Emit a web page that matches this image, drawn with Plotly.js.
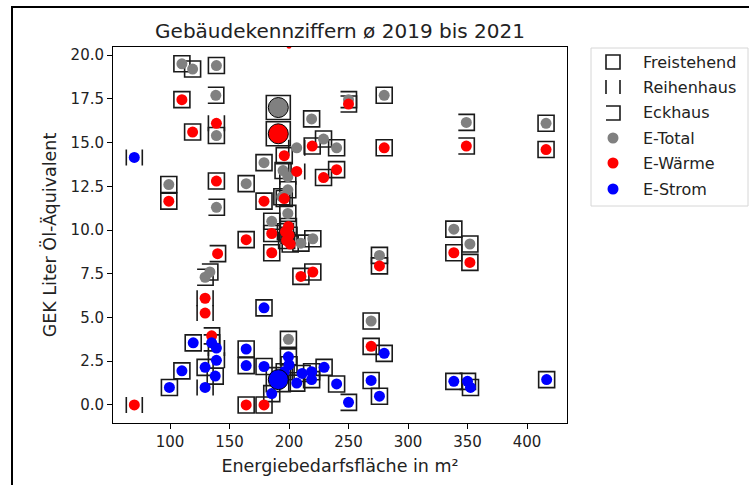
<!DOCTYPE html>
<html><head><meta charset="utf-8">
<script src="https://cdn.plot.ly/plotly-3.0.1.min.js"></script>
<style>
html,body{margin:0;padding:0;background:#fff;overflow:hidden;}
#chart{width:749px;height:485px;}
#frame{position:absolute;left:11px;top:6px;width:760px;height:500px;border-left:2px solid #000;border-top:2px solid #000;pointer-events:none;}
</style>
</head><body>
<div id="chart"></div><div id="frame"></div>
<script>
// E-Total (grau)
const totalX   = [110,119,139,139,99,164,179,219,229,240,280,416,338.5,352,276,269,199.5,210,220,185.5,195,199,194,199, 138.5,139,250,349,129.5,133.5, 206.5,199];
const totalY   = [19.5,19.2,19.4,15.4,12.6,12.65,13.85,16.35,15.2,14.7,17.7,16.1,10.05,9.2,8.55,4.8,3.75,9.25,9.5,10.5,13.4,12.3,11.9,10.95, 17.7,11.3,17.45,16.15,7.3,7.6, 14.7,13.05];
const totalBau = ['F','F','F','F','F','F','F','F','F','F','F','F','F','F','F','F','F','F','F','F','F','F','F','F','E','E','E','E','E','E','R','R'];
// E-Wärme (rot)
const waermeX   = [110,119,139,99,179,219.5,229,240,280,416,338.5,352,276,269,164,185.5,210,220,164,179,196,196,199.5,185.5,197,200,198,201, 250,349,140,135, 70,129.5,129.5,206.5,139];
const waermeY   = [17.45,15.6,12.8,11.65,11.65,14.8,13.0,13.45,14.7,14.6,8.7,8.15,7.95,3.35,9.45,8.7,7.35,7.6,0,0,14.25,11.8,10.2,9.8,9.9,9.7,9.4,9.2, 17.2,14.8,8.65,3.95, 0,6.1,5.25,13.35,16.1];
const waermeBau = ['F','F','F','F','F','F','F','F','F','F','F','F','F','F','F','F','F','F','F','F','F','F','F','F','F','F','F','F','E','E','E','E','R','R','R','R','R'];
// E-Strom (blau)
const stromX   = [99.5,110,119.5,129.5,138,164,164,179,179,280,229.5,240,269,276,338.5,352.5,416.5,199.5,219,219,206.5,185.5,200,196,211, 250,350,135, 70,129.5,139,139];
const stromY   = [1.0,1.95,3.55,2.15,1.65,3.2,2.25,5.55,2.2,2.95,2.15,1.2,1.4,0.5,1.35,1.0,1.45,2.75,1.9,1.45,1.25,0.65,2.3,1.9,1.8, 0.15,1.35,3.55, 14.15,1.0,2.55,3.25];
const stromBau = ['F','F','F','F','F','F','F','F','F','F','F','F','F','F','F','F','F','F','F','F','F','F','F','F','F','E','E','E','R','R','R','R'];
// Mittelwerte (grosse Marker)
const mittelX      = [191];
const mittelTotal  = [17.0];
const mittelWaerme = [15.5];
const mittelStrom  = [1.45];
// Einzelpunkt am oberen Rand
const randX = [200];
const randY = [20.5];

const xTicks = [100,150,200,250,300,350,400];
const yTicks = [0,2.5,5,7.5,10,12.5,15,17.5,20];
const legendLabels = ['Freistehend','Reihenhaus','Eckhaus','E-Total','E-Wärme','E-Strom'];

const W=749,H=485, L=113,R=567,T=47,B=423;
const px2x = p => (p-L)/(R-L);
const px2y = p => (B-p)/(B-T);

function pathFor(t,h){
  if(t==='F') return `M${-h},${-h}H${h}V${h}H${-h}Z`;
  if(t==='R') return `M${-h},${-h}V${h}M${h},${-h}V${h}`;
  return `M${-h},${h}H${h}V${-h}H${-h}`;
}
const shapes=[];
function addBau(xs,ys,ts,h){
  xs.forEach((x,i)=>{
    shapes.push({type:'path',xref:'x',yref:'y',xsizemode:'pixel',ysizemode:'pixel',
      xanchor:x,yanchor:ys[i],path:pathFor(ts[i],h),layer:'below',
      line:{color:'#1a1a1a',width:1.6},fillcolor:'rgba(0,0,0,0)'});
  });
}
addBau(totalX,totalY,totalBau,8);
addBau(waermeX,waermeY,waermeBau,8);
addBau(stromX,stromY,stromBau,8);
[mittelTotal,mittelWaerme,mittelStrom].forEach(arr=>addBau(mittelX,arr,['F'],12));

// manual legend
shapes.push({type:'rect',xref:'paper',yref:'paper',x0:px2x(591),x1:px2x(748),y0:px2y(206),y1:px2y(48),
  line:{color:'#d6d6d6',width:1},fillcolor:'#fff',layer:'above'});
const legY=[62,87,113,138,163,189];
const annotations=[];
['F','R','E'].forEach((t,i)=>{
  shapes.push({type:'path',xref:'paper',yref:'paper',xsizemode:'pixel',ysizemode:'pixel',
    xanchor:px2x(613),yanchor:px2y(legY[i]),path:pathFor(t,7),layer:'above',
    line:{color:'#1a1a1a',width:1.6},fillcolor:'rgba(0,0,0,0)'});
});
['#808080','#ff0000','#0000ff'].forEach((c,i)=>{
  shapes.push({type:'circle',xref:'paper',yref:'paper',xsizemode:'pixel',ysizemode:'pixel',
    xanchor:px2x(613),yanchor:px2y(legY[i+3]),x0:-5.5,x1:5.5,y0:-5.5,y1:5.5,layer:'above',
    line:{width:0},fillcolor:c});
});
legendLabels.forEach((s,i)=>{
  annotations.push({xref:'paper',yref:'paper',x:px2x(641),y:px2y(legY[i]),xanchor:'left',yanchor:'middle',
    text:s,showarrow:false,font:{size:16,color:'#222'}});
});

const traces=[
  {x:totalX,y:totalY,mode:'markers',type:'scatter',marker:{color:'#808080',size:11},showlegend:false},
  {x:waermeX,y:waermeY,mode:'markers',type:'scatter',marker:{color:'#ff0000',size:11},showlegend:false},
  {x:stromX,y:stromY,mode:'markers',type:'scatter',marker:{color:'#0000ff',size:11},showlegend:false},
  {x:randX,y:randY,mode:'markers',type:'scatter',marker:{color:'#ff0000',size:5},showlegend:false},
  {x:mittelX,y:mittelTotal,mode:'markers',type:'scatter',marker:{color:'#808080',size:20,line:{color:'#000',width:1}},showlegend:false},
  {x:mittelX,y:mittelWaerme,mode:'markers',type:'scatter',marker:{color:'#ff0000',size:20,line:{color:'#000',width:1}},showlegend:false},
  {x:mittelX,y:mittelStrom,mode:'markers',type:'scatter',marker:{color:'#0000ff',size:20,line:{color:'#000',width:1}},showlegend:false}
];

const layout={
  width:W,height:H,margin:{l:L,r:W-R,t:T,b:H-B,pad:0},
  paper_bgcolor:'#fff',plot_bgcolor:'#fff',
  font:{family:'DejaVu Sans',color:'#222'},
  title:{text:'Gebäudekennziffern ø 2019 bis 2021',font:{size:20,color:'#222'},xref:'paper',x:0.5,xanchor:'center',yref:'container',y:1-31/H,yanchor:'middle'},
  xaxis:{range:[52.1,433.6],tickvals:xTicks,ticktext:xTicks.map(String),ticks:'outside',ticklen:5,tickcolor:'#000',
    showline:true,mirror:true,linecolor:'#000',linewidth:1,showgrid:false,zeroline:false,tickfont:{size:15},
    title:{text:'Energiebedarfsfläche in m²',font:{size:17.5},standoff:9}},
  yaxis:{range:[-1.03,20.46],tickvals:yTicks,ticktext:yTicks.map(v=>v.toFixed(1)),ticks:'outside',ticklen:5,tickcolor:'#000',
    showline:true,mirror:true,linecolor:'#000',linewidth:1,showgrid:false,zeroline:false,tickfont:{size:15},
    title:{text:'GEK Liter Öl-Äquivalent',font:{size:17.5},standoff:9}},
  shapes:shapes,annotations:annotations,showlegend:false
};
Plotly.newPlot('chart',traces,layout,{displayModeBar:false,staticPlot:true});
</script>
</body></html>
